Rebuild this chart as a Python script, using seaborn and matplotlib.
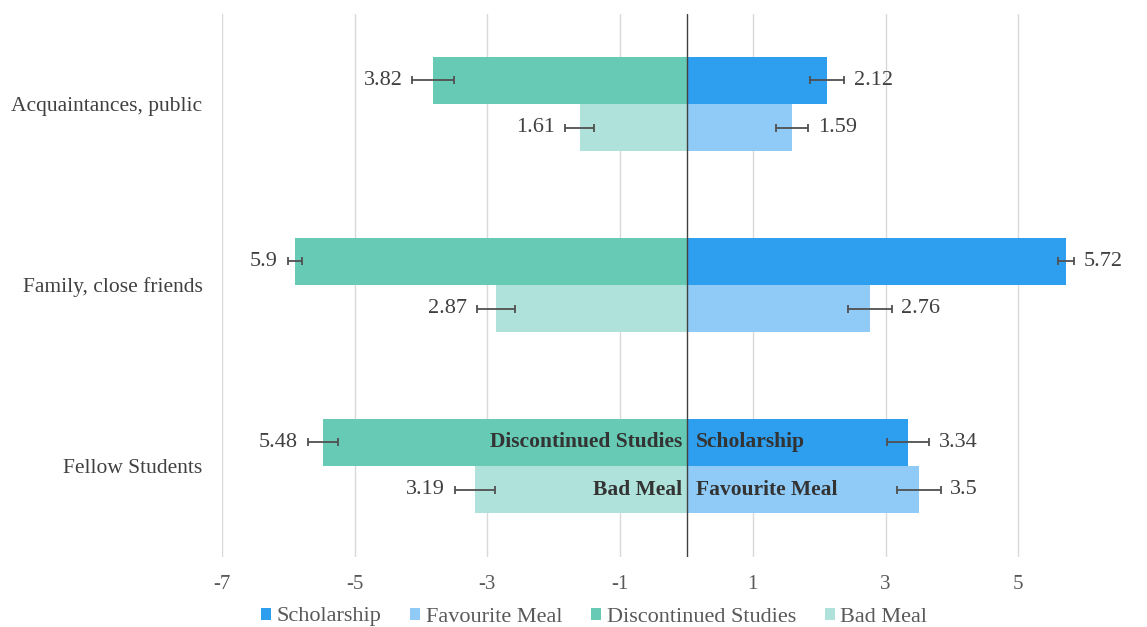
import matplotlib
matplotlib.use("Agg")
import matplotlib.pyplot as plt
from matplotlib.patches import Patch
from matplotlib.container import BarContainer
import pandas as pd
import seaborn as sns

# Reactions by audience: positive events to the right, negative events to the left
categories = ["Acquaintances, public", "Family, close friends", "Fellow Students"]

scholarship = [2.12, 5.72, 3.34]
favourite_meal = [1.59, 2.76, 3.5]
discontinued_studies = [3.82, 5.9, 5.48]
bad_meal = [1.61, 2.87, 3.19]

scholarship_err = [0.26, 0.12, 0.32]
favourite_meal_err = [0.24, 0.33, 0.33]
discontinued_studies_err = [0.31, 0.11, 0.23]
bad_meal_err = [0.22, 0.29, 0.30]

x_ticks = [-7, -5, -3, -1, 1, 3, 5, 7]

colors = {
    "Scholarship": "#2E9FEE",
    "Favourite Meal": "#90CAF7",
    "Discontinued Studies": "#67CAB4",
    "Bad Meal": "#AEE2DA",
}

sns.set_theme(style="white")
plt.rcParams["font.family"] = ["Liberation Serif", "DejaVu Serif"]
text_color = "#404040"

pos = pd.DataFrame({
    "category": categories * 2,
    "condition": ["Scholarship"] * 3 + ["Favourite Meal"] * 3,
    "value": scholarship + favourite_meal,
    "err": scholarship_err + favourite_meal_err,
})
neg = pd.DataFrame({
    "category": categories * 2,
    "condition": ["Discontinued Studies"] * 3 + ["Bad Meal"] * 3,
    "value": [-v for v in discontinued_studies + bad_meal],
    "err": discontinued_studies_err + bad_meal_err,
})

fig = plt.figure(figsize=(11.47, 6.27), dpi=100)
ax = fig.add_axes([222 / 1147, 1 - 556.5 / 627, 929 / 1147, 543 / 627])

bar_sets = {}
for df, order in ((pos, ["Scholarship", "Favourite Meal"]),
                  (neg, ["Discontinued Studies", "Bad Meal"])):
    n0 = len(ax.containers)
    sns.barplot(data=df, y="category", x="value", hue="condition",
                hue_order=order, order=categories, orient="h", width=0.52,
                palette=colors, saturation=1, errorbar=None, legend=False,
                linewidth=0, ax=ax, zorder=2)
    new = [c for c in ax.containers[n0:] if isinstance(c, BarContainer)]
    for cont, cond in zip(new, order):
        bar_sets[cond] = cont
        sub = df[df["condition"] == cond].set_index("category").loc[categories]
        for bar, val, err in zip(cont.patches, sub["value"], sub["err"]):
            yc = bar.get_y() + bar.get_height() / 2
            ax.errorbar(val, yc, xerr=err, fmt="none", ecolor="#505050",
                        elinewidth=1.3, capsize=3, capthick=1.3, zorder=4)
            side = 1 if val > 0 else -1
            ax.annotate(f"{abs(val):g}", (val + side * err, yc),
                        xytext=(side * 7, 0), textcoords="offset points",
                        ha="left" if side > 0 else "right", va="center",
                        fontsize=16, color=text_color)

# Series names written inside the Fellow Students bars
fellow = categories.index("Fellow Students")
for name, cont in bar_sets.items():
    bar = cont.patches[fellow]
    yc = bar.get_y() + bar.get_height() / 2
    left_side = name in ("Discontinued Studies", "Bad Meal")
    ax.annotate(name, (0, yc), xytext=(-3 if left_side else 7, 0),
                textcoords="offset points",
                ha="right" if left_side else "left", va="center",
                fontsize=15.5, fontweight="bold", color="#333333", zorder=6)

ax.axvline(0, color="#404040", linewidth=1, zorder=5)
ax.set_xlim(-7, 7)
ax.set_ylim(2.5, -0.5)
ax.set_xticks(x_ticks)
ax.set_xticklabels([str(t) for t in x_ticks])
ax.xaxis.grid(True, color="#D9D9D9", linewidth=1)
ax.set_axisbelow(True)
ax.set_xlabel("")
ax.set_ylabel("")
for s in ax.spines.values():
    s.set_visible(False)
ax.tick_params(axis="x", length=0, pad=13, labelsize=15, labelcolor="#595959")
ax.tick_params(axis="y", length=0, pad=14, labelsize=15.5, labelcolor=text_color)

handles = [Patch(facecolor=colors[k], edgecolor="none", label=k)
           for k in ["Scholarship", "Favourite Meal", "Discontinued Studies", "Bad Meal"]]
fig.legend(handles=handles, loc="center", bbox_to_anchor=(594 / 1147, 1 - 617 / 627),
           ncol=4, frameon=False, prop={"family": "Liberation Serif", "size": 16},
           handlelength=0.45, handleheight=0.45, handletextpad=0.25,
           columnspacing=1.3, labelcolor="#595959")

fig.savefig("out.png", dpi=100)
